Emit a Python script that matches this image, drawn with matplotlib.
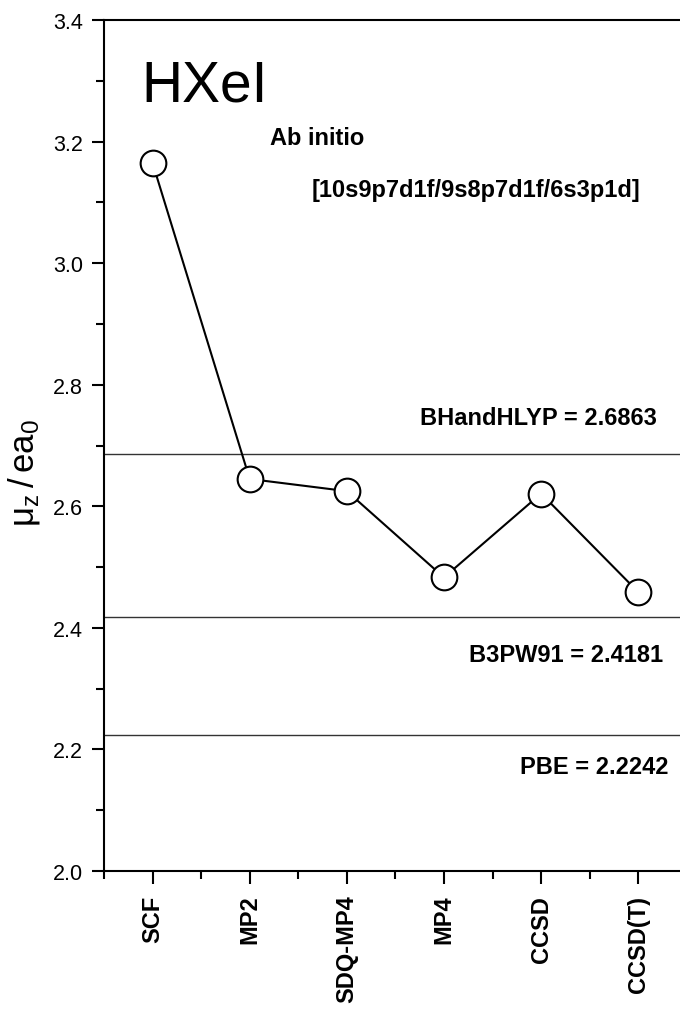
import matplotlib
matplotlib.use("Agg")
import matplotlib.pyplot as plt
from matplotlib.ticker import MultipleLocator, FormatStrFormatter

# data
methods = ['SCF', 'MP2', 'SDQ-MP4', 'MP4', 'CCSD', 'CCSD(T)']
mu_z = [3.165, 2.645, 2.625, 2.483, 2.621, 2.459]

dft_names = ['BHandHLYP', 'B3PW91', 'PBE']
dft_values = [2.6863, 2.4181, 2.2242]

plt.rcParams['font.family'] = ['Liberation Sans', 'DejaVu Sans']

fig = plt.figure(figsize=(6.8, 10.12), dpi=100)
ax = fig.add_axes([0.1529, 0.1383, 0.8471, 0.8409])

x = list(range(1, len(methods) + 1))

# horizontal reference lines for the DFT values
for val in dft_values:
    ax.axhline(val, color='#333333', lw=1.0, zorder=1)

# ab initio series
ax.plot(x, mu_z, color='black', lw=1.5, marker='o', ms=18.5,
        mfc='white', mec='black', mew=1.5, zorder=3)

ax.set_xlim(0.5, 6.43)
ax.set_ylim(2.0, 3.4)

# ticks
ax.yaxis.set_major_locator(MultipleLocator(0.2))
ax.yaxis.set_minor_locator(MultipleLocator(0.1))
ax.yaxis.set_major_formatter(FormatStrFormatter('%.1f'))
ax.set_xticks(x)
ax.set_xticklabels(methods, rotation=90, fontsize=17, fontweight='bold')
ax.xaxis.set_minor_locator(MultipleLocator(1.0, offset=0.5))
ax.tick_params(axis='both', which='major', direction='out', length=9,
               width=1.5, labelsize=15.5, pad=6)
ax.tick_params(axis='x', which='major', labelsize=17, pad=8)
ax.tick_params(axis='both', which='minor', direction='out', length=5.5,
               width=1.5)

for side in ['left', 'top', 'bottom']:
    ax.spines[side].set_linewidth(1.5)
ax.spines['right'].set_visible(False)

ax.set_ylabel(r'$\mathregular{\mu_z\,/\,ea_0}$', fontsize=25)
ax.yaxis.set_label_coords(-0.108, 0.469)

# annotations
ax.text(0.88, 3.267, 'HXeI', fontsize=41, ha='left', va='baseline')
ax.text(2.21, 3.207, 'Ab initio', fontsize=17, fontweight='bold',
        ha='left', va='center')
ax.text(2.64, 3.122, '[10s9p7d1f/9s8p7d1f/6s3p1d]', fontsize=17,
        fontweight='bold', ha='left', va='center')

label_pos = [(6.196, 2.7465), (6.258, 2.356), (6.309, 2.172)]
for name, val, (tx, ty) in zip(dft_names, dft_values, label_pos):
    ax.text(tx, ty, f'{name} = {val:.4f}', fontsize=17, fontweight='bold',
            ha='right', va='center')

fig.savefig('out.png', dpi=100)
